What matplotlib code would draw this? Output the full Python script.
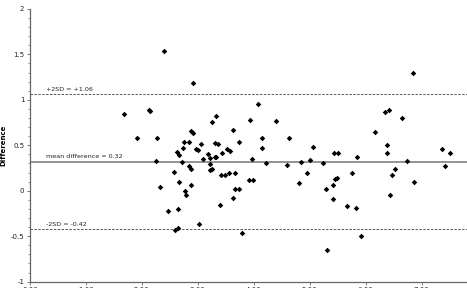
import matplotlib
matplotlib.use("Agg")
import matplotlib.pyplot as plt
from matplotlib.ticker import MultipleLocator

# Bland-Altman data: mean of methods (x) and difference (y)
mean_vals = [1.69, 1.92, 2.13, 2.15, 2.28, 2.26, 2.32, 2.39, 2.92, 2.46, 2.59, 2.65,
             2.65, 2.57, 2.67, 2.78, 2.79, 2.87, 3.03, 2.62, 2.66, 2.72, 2.73, 2.76,
             2.84, 2.87, 2.92, 2.96, 3.00, 3.06, 2.85, 2.87, 3.10, 3.18, 3.22, 3.22,
             3.21, 3.25, 3.26, 3.32, 3.31, 3.36, 3.30, 3.33, 3.44, 3.39, 3.41, 3.49,
             3.55, 3.53, 3.58, 3.63, 3.67, 3.74, 3.63, 3.67, 3.74, 3.79, 3.94, 3.96,
             3.92, 3.98, 4.08, 4.14, 4.15, 4.22, 4.39, 4.63, 4.60, 4.80, 4.84, 4.96,
             5.01, 5.05, 5.24, 5.29, 5.31, 5.41, 5.42, 5.46, 5.48, 5.44, 5.50, 5.67,
             5.76, 5.82, 5.84, 5.92, 6.16, 6.34, 6.41, 6.38, 6.38, 6.52, 6.47, 6.43,
             6.64, 6.74, 6.86, 6.85, 7.36, 7.41, 7.51]
differences = [0.84, 0.58, 0.886, 0.875, 0.58, 0.33, 0.04, 1.54, 1.18, -0.22, -0.43, -0.41,
               -0.20, 0.21, 0.10, 0.00, -0.05, 0.06, -0.37, 0.43, 0.39, 0.32, 0.47, 0.54,
               0.54, 0.66, 0.63, 0.46, 0.45, 0.51, 0.27, 0.24, 0.35, 0.40, 0.36, 0.29,
               0.23, 0.24, 0.76, 0.82, 0.52, 0.51, 0.37, 0.37, 0.41, -0.16, 0.17, 0.17,
               0.20, 0.46, 0.44, 0.67, 0.20, 0.54, -0.08, 0.015, 0.015, -0.47, 0.78, 0.35,
               0.12, 0.12, 0.95, 0.58, 0.47, 0.30, 0.77, 0.58, 0.28, 0.085, 0.32, 0.20,
               0.34, 0.48, 0.30, 0.02, -0.65, -0.09, 0.06, 0.13, 0.14, 0.41, 0.41, -0.17,
               0.19, -0.19, 0.37, -0.50, 0.65, 0.87, 0.89, 0.50, 0.42, 0.24, 0.17, -0.05,
               0.80, 0.33, 0.10, 1.29, 0.46, 0.27, 0.41]

mean_diff = 0.32
upper = 1.06
lower = -0.42
labels = ["+2SD = +1.06", "mean difference = 0.32", "-2SD = -0.42"]
x_ticks = [0, 1, 2, 3, 4, 5, 6, 7]
x_ticklabels = ["0.00", "1.00", "2.00", "3.00", "4.00", "5.00", "6.00", "7.00"]
y_ticks = [-1, -0.5, 0, 0.5, 1, 1.5, 2]
y_ticklabels = ["-1", "-0.5", "0", "0.5", "1", "1.5", "2"]

fig = plt.figure(figsize=(4.67, 2.88), dpi=100)
ax = fig.add_axes([0.064, 0.022, 0.936, 0.947])
ax.set_xlim(0, 7.81)
ax.set_ylim(-1, 2)

ax.axhline(upper, color="#555555", lw=0.7, ls=(0, (2.5, 1.5)))
ax.axhline(lower, color="#555555", lw=0.7, ls=(0, (2.5, 1.5)))
ax.axhline(mean_diff, color="#777777", lw=1.1)

ax.scatter(mean_vals, differences, marker="D", s=8, color="black", zorder=3, linewidths=0)

txt_kw = dict(fontsize=4.6, color="#222222", va="bottom", ha="left")
ax.text(0.28, upper + 0.025, labels[0], **txt_kw)
ax.text(0.28, mean_diff + 0.025, labels[1], **txt_kw)
ax.text(0.28, lower + 0.025, labels[2], **txt_kw)

for s in ["top", "right"]:
    ax.spines[s].set_visible(False)
for s in ["left", "bottom"]:
    ax.spines[s].set_color("#666666")
    ax.spines[s].set_linewidth(0.9)

ax.set_xticks(x_ticks)
ax.set_xticklabels(x_ticklabels)
ax.set_yticks(y_ticks)
ax.set_yticklabels(y_ticklabels)
ax.yaxis.set_minor_locator(MultipleLocator(0.1))
ax.tick_params(axis="both", which="major", labelsize=5, length=2.5, width=0.6,
               color="#666666", labelcolor="#222222", pad=1.5)
ax.tick_params(axis="y", which="minor", length=1.5, width=0.5, color="#666666")
ax.tick_params(axis="x", which="major", pad=1)

ax.set_ylabel("Difference", fontsize=5, fontweight="bold", labelpad=3)

fig.savefig("out.png", dpi=100)
